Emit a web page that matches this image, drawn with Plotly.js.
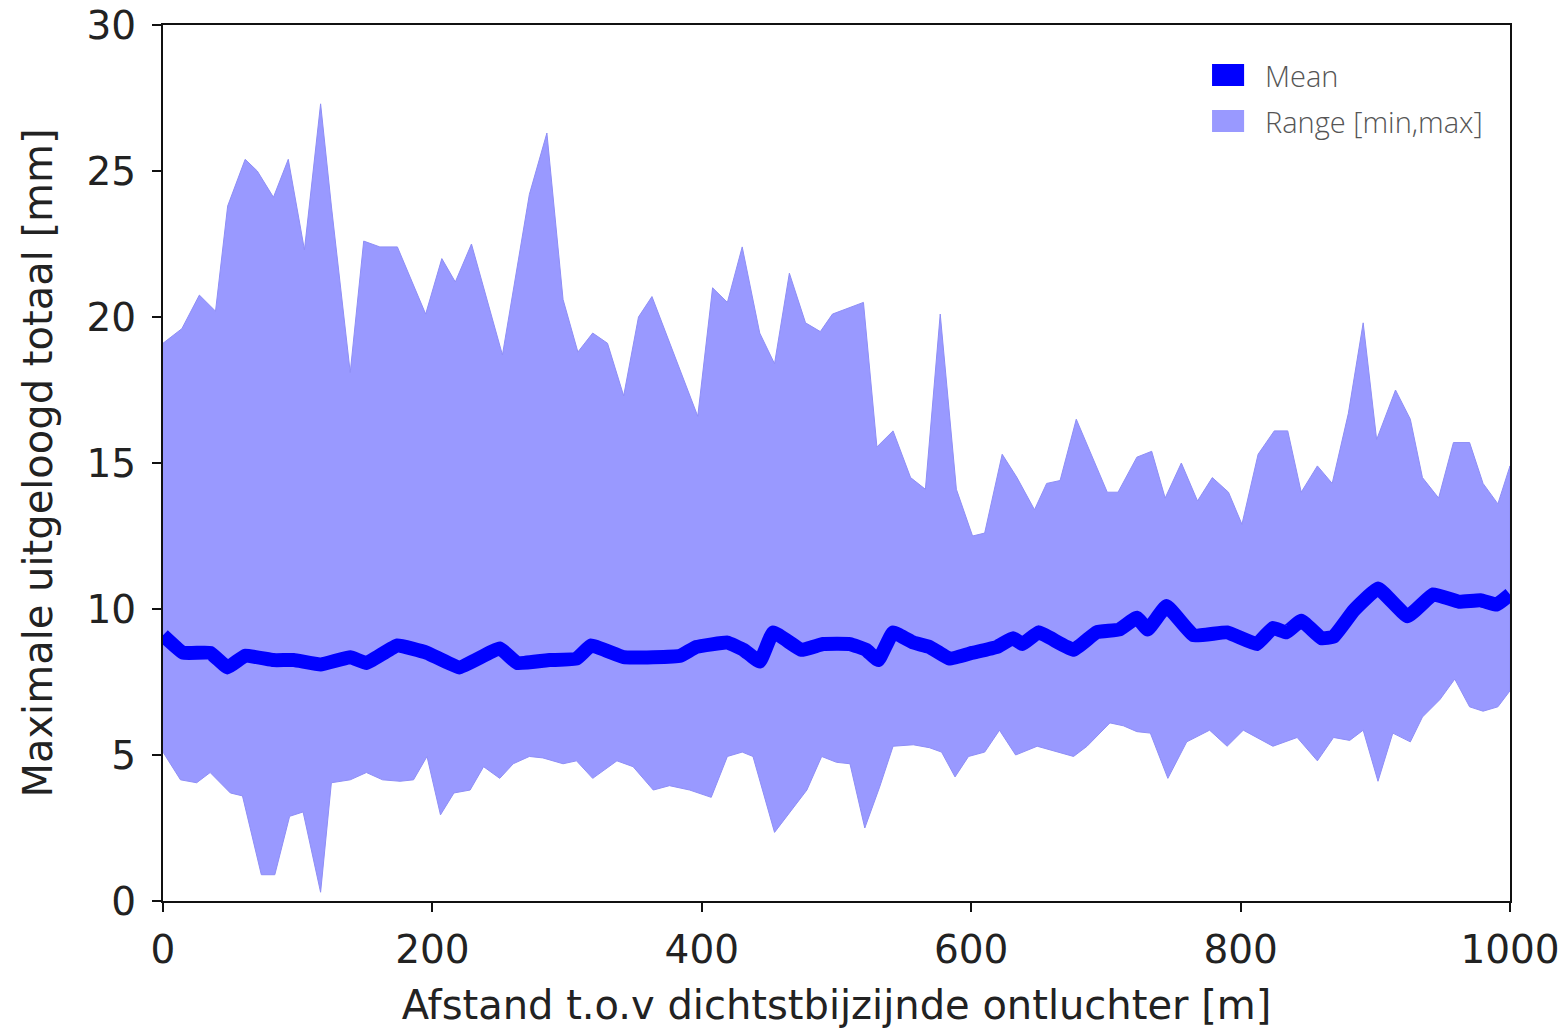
<!DOCTYPE html>
<html>
<head>
<meta charset="utf-8">
<script src="https://cdn.plot.ly/plotly-3.0.1.min.js"></script>
<style>html,body{margin:0;padding:0;background:#fff;}#chart{width:1560px;height:1031px;}</style>
</head>
<body>
<div id="chart"></div>
<script>
// Upper bound (max) of the range
const maxX = [0,14,27,39,48,61,70,82,93,105,117,125,139,149,161,174,195,207,217,229,252,272,285,297,308,319,330,342,353,363,397,408,419,430,443,454,465,477,488,497,520,530,542,555,566,577,589,601,610,623,634,647,656,666,678,701,709,723,734,744,756,768,779,791,801,813,825,835,845,857,868,880,891,901,915,926,935,947,958,970,980,991,1000];
const maxY = [19.1,19.6,20.75,20.2,23.8,25.4,25.0,24.1,25.4,22.3,27.3,23.8,18.1,22.6,22.4,22.4,20.1,22.0,21.2,22.5,18.7,24.2,26.3,20.6,18.8,19.45,19.1,17.3,20.0,20.7,16.6,21.0,20.5,22.4,19.45,18.4,21.5,19.8,19.5,20.1,20.5,15.55,16.1,14.5,14.1,20.1,14.1,12.5,12.6,15.3,14.5,13.4,14.3,14.4,16.5,14.0,14.0,15.2,15.4,13.8,15.0,13.7,14.5,14.0,12.9,15.3,16.1,16.1,14.0,14.9,14.3,16.7,19.8,15.8,17.5,16.5,14.5,13.8,15.7,15.7,14.3,13.6,14.9];

// Lower bound (min) of the range
const minX = [0,13,25,35,50,59,73,83,94,104,117,125,139,151,163,176,186,196,206,216,228,238,250,260,272,282,297,307,319,337,349,364,376,391,407,419,430,438,454,478,489,500,510,521,532,542,557,569,578,588,598,610,621,633,649,676,686,703,713,723,733,746,760,777,790,802,824,842,857,869,881,891,902,913,926,935,948,959,970,980,991,1000];
const minY = [5.1,4.15,4.05,4.4,3.7,3.6,0.9,0.9,2.9,3.05,0.3,4.05,4.15,4.4,4.15,4.1,4.15,4.95,2.95,3.7,3.8,4.6,4.2,4.7,4.95,4.9,4.7,4.8,4.2,4.8,4.6,3.8,3.95,3.8,3.55,4.95,5.1,4.95,2.35,3.8,4.95,4.75,4.7,2.5,3.9,5.3,5.35,5.25,5.1,4.25,4.95,5.1,5.85,5.0,5.3,4.95,5.3,6.1,6.0,5.8,5.75,4.2,5.45,5.85,5.3,5.85,5.3,5.6,4.8,5.6,5.5,5.85,4.1,5.75,5.45,6.3,6.9,7.6,6.65,6.5,6.65,7.2];

// Mean
const meanX = [0,15,35,48,61,82,97,117,139,151,174,196,220,250,263,287,307,318,342,364,384,396,419,431,443,453,474,490,510,522,531,542,557,569,584,601,619,631,638,650,676,693,710,723,731,745,765,790,812,824,834,845,860,869,884,902,924,943,962,978,990,1000];
const meanY = [9.1,8.5,8.5,8.0,8.4,8.25,8.25,8.1,8.35,8.15,8.75,8.5,8.0,8.65,8.15,8.25,8.3,8.75,8.35,8.35,8.4,8.7,8.85,8.6,8.2,9.2,8.6,8.8,8.8,8.6,8.25,9.2,8.85,8.7,8.3,8.5,8.7,9.0,8.8,9.2,8.6,9.2,9.3,9.7,9.3,10.1,9.1,9.2,8.8,9.35,9.2,9.6,9.0,9.05,9.95,10.7,9.75,10.5,10.25,10.3,10.15,10.5];

const xTicks = [0,200,400,600,800,1000];
const yTicks = [0,5,10,15,20,25,30];
const xTitle = 'Afstand t.o.v dichtstbijzijnde ontluchter [m]';
const yTitle = 'Maximale uitgeloogd totaal [mm]';
const legendNames = ['Mean', 'Range [min,max]'];

const rangeColor = '#9999ff';
const meanColor = '#0000ff';
const legendColors = [meanColor, rangeColor];

const polyX = maxX.concat(minX.slice().reverse());
const polyY = maxY.concat(minY.slice().reverse());

const traces = [
  {x: polyX, y: polyY, type: 'scatter', mode: 'lines', fill: 'toself', name: legendNames[1],
   fillcolor: rangeColor, line: {color: '#8e8ef6', width: 1}, showlegend: false, hoverinfo: 'skip'},
  {x: meanX, y: meanY, type: 'scatter', mode: 'lines', name: legendNames[0],
   line: {color: meanColor, width: 14, shape: 'spline', smoothing: 0.3}, showlegend: false}
];

// Legend drawn as swatches + text (paper coordinates)
const legX0 = 0.7788, legX1 = 0.8026, legTextX = 0.8165;
const legRows = [{y0: 0.9304, y1: 0.9555, ty: 0.9429}, {y0: 0.8779, y1: 0.9030, ty: 0.8904}];
const shapes = legRows.map((r, i) => ({type: 'rect', xref: 'paper', yref: 'paper',
  x0: legX0, x1: legX1, y0: r.y0, y1: r.y1, fillcolor: legendColors[i], line: {width: 0}}));
const annotations = legRows.map((r, i) => ({xref: 'paper', yref: 'paper', x: legTextX, y: r.ty,
  xanchor: 'left', yanchor: 'middle', showarrow: false, text: legendNames[i],
  font: {family: 'Open Sans', size: 29, color: '#555', weight: 300}}));

const tickFont = {family: 'DejaVu Sans', size: 39, color: '#222'};
const titleFont = {family: 'DejaVu Sans', size: 40, color: '#222'};

const layout = {
  width: 1560, height: 1031,
  paper_bgcolor: '#fff', plot_bgcolor: '#fff',
  margin: {l: 163, r: 50, t: 25, b: 130},
  showlegend: false,
  shapes: shapes,
  annotations: annotations,
  xaxis: {range: [0, 1000], tickvals: xTicks, ticktext: xTicks.map(String),
    showgrid: false, zeroline: false, showline: true, mirror: true,
    linecolor: '#111', linewidth: 2, ticks: 'outside', ticklen: 9, tickwidth: 2, tickcolor: '#111',
    tickfont: tickFont, ticklabelstandoff: 4,
    title: {text: xTitle, font: titleFont, standoff: 20}},
  yaxis: {range: [0, 30], tickvals: yTicks, ticktext: yTicks.map(String),
    showgrid: false, zeroline: false, showline: true, mirror: true,
    linecolor: '#111', linewidth: 2, ticks: 'outside', ticklen: 9, tickwidth: 2, tickcolor: '#111',
    tickfont: tickFont, ticklabelstandoff: 8,
    title: {text: yTitle, font: titleFont, standoff: 22}}
};

Plotly.newPlot('chart', traces, layout, {displayModeBar: false, staticPlot: true});
</script>
</body>
</html>
